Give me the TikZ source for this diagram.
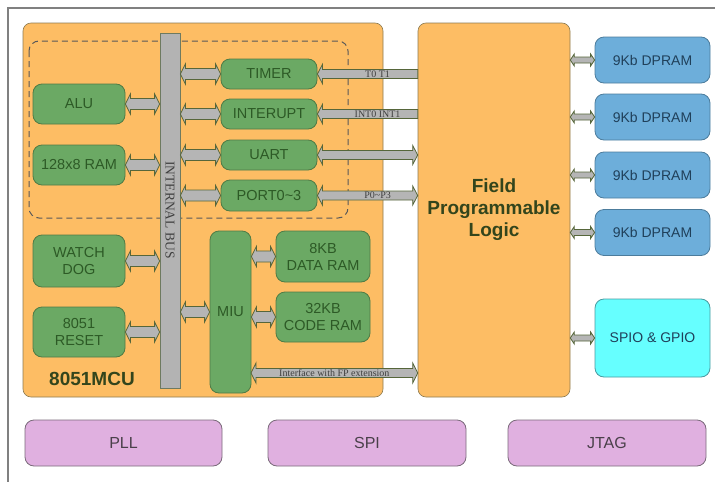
\documentclass[tikz,border=0pt]{standalone}
\usepackage{fontspec}
\setmainfont{Liberation Serif}
\setsansfont{Liberation Sans}
\usetikzlibrary{calc}

\definecolor{mcuorange}{HTML}{FDBD64}
\definecolor{edgebrown}{HTML}{8C7B52}
\definecolor{unitgreen}{HTML}{6BA964}
\definecolor{unitedge}{HTML}{4F7B45}
\definecolor{unittext}{HTML}{2D5A26}
\definecolor{arrowgray}{HTML}{B5B5B5}
\definecolor{arrowedge}{HTML}{56663A}
\definecolor{busgray}{HTML}{B3B3B3}
\definecolor{busedge}{HTML}{6E7A60}
\definecolor{dpblue}{HTML}{6DAEDA}
\definecolor{dpedge}{HTML}{4C7C9C}
\definecolor{dptext}{HTML}{20405A}
\definecolor{spiocyan}{HTML}{66FFFF}
\definecolor{spioedge}{HTML}{4A9AA0}
\definecolor{plumfill}{HTML}{E0B0E0}
\definecolor{plumedge}{HTML}{7A6A7A}
\definecolor{plumtext}{HTML}{4A404A}
\definecolor{logictext}{HTML}{33451C}
\definecolor{framegray}{HTML}{808080}

% wide arrow, heads at both ends: [head length]{from}{to}{half body}{half head}
\newcommand{\twoway}[5][5pt]{%
  \draw[busarrow] let \p1=#2, \p2=#3 in
    (\x1,\y1) -- (\x1+#1,\y1+#5) -- (\x1+#1,\y1+#4) -- (\x2-#1,\y1+#4)
    -- (\x2-#1,\y1+#5) -- (\x2,\y1) -- (\x2-#1,\y1-#5) -- (\x2-#1,\y1-#4)
    -- (\x1+#1,\y1-#4) -- (\x1+#1,\y1-#5) -- cycle;}
% wide arrow, head at the left end only
\newcommand{\oneway}[5][5pt]{%
  \draw[busarrow] let \p1=#2, \p2=#3 in
    (\x1,\y1) -- (\x1+#1,\y1+#5) -- (\x1+#1,\y1+#4) -- (\x2,\y1+#4)
    -- (\x2,\y1-#4) -- (\x1+#1,\y1-#4) -- (\x1+#1,\y1-#5) -- cycle;}

\begin{document}
\begin{tikzpicture}[
    x={(1pt,0pt)},
    y={(0pt,-1pt)},
    wh/.style 2 args={minimum width=#1pt, minimum height=#2pt},
    block/.style={draw=edgebrown, fill=mcuorange, rounded corners=8pt, line width=0.6pt, inner sep=0pt},
    unit/.style={draw=unitedge, fill=unitgreen, rounded corners=9pt, line width=0.8pt,
        text=unittext, font=\sffamily\fontsize{14.5}{17}\selectfont, align=center, inner sep=0pt},
    dpram/.style={draw=dpedge, fill=dpblue, rounded corners=9pt, line width=0.8pt,
        text=dptext, font=\sffamily\fontsize{14}{17}\selectfont, inner sep=0pt},
    periph/.style={draw=plumedge, fill=plumfill, rounded corners=9pt, line width=0.8pt,
        text=plumtext, font=\sffamily\fontsize{16}{18}\selectfont, inner sep=0pt},
    bus/.style={draw=busedge, fill=busgray, line width=0.8pt, inner sep=0pt},
    busarrow/.style={draw=arrowedge, fill=arrowgray, line width=0.8pt},
    sig/.style={font=\fontsize{10}{10}\selectfont, text=black!75, inner sep=0pt},
    frame/.style={draw=framegray, line width=2pt}
]
    \useasboundingbox (0,0) rectangle (715,482);
    \draw[frame] (8,482) -- (8,8) -- (715,8);

    % 8051 core
    \node[block, wh={360}{374}] (mcu) at (203,210) {};
    \draw[draw=black!65, dashed, dash pattern=on 6pt off 4pt, line width=1pt, rounded corners=10pt]
        (29,41) rectangle (348,218);
    \node[bus, wh={20}{355}] (bus) at (170,210.5) {};
    \node[rotate=-90, font=\fontsize{13.5}{14}\selectfont, text=black!75] (buslbl) at (170,210) {INTERNAL BUS};

    \node[unit, wh={92}{40}] (alu) at (79,104) {ALU};
    \node[unit, wh={92}{40}] (ram) at (79,165) {128x8 RAM};
    \node[unit, wh={92}{52}] (wdog) at (79,261) {WATCH\\DOG};
    \node[unit, wh={92}{50}] (rst) at (79,332) {8051\\RESET};
    \node[unit, wh={96}{30}] (timer) at (269,74) {TIMER};
    \node[unit, wh={96}{30}] (intr) at (269,114) {INTERUPT};
    \node[unit, wh={96}{30}] (uart) at (269,155) {UART};
    \node[unit, wh={96}{31}] (port) at (269,195.5) {PORT0\textasciitilde3};
    \node[unit, wh={41}{162}] (miu) at (230.5,312) {MIU};
    \node[unit, wh={94}{51}] (dram) at (323,256.5) {8KB\\DATA RAM};
    \node[unit, wh={94}{50}] (cram) at (323,317) {32KB\\CODE RAM};
    \node[font=\sffamily\bfseries\fontsize{19}{20}\selectfont, text=logictext] (mculbl) at (92,379) {8051MCU};

    % fabric and memories
    \node[block, wh={152}{374}, align=center, text=logictext,
        font=\sffamily\bfseries\fontsize{19}{22}\selectfont] (fpl) at (494,210) {Field\\Programmable\\Logic};
    \foreach \i/\y in {1/60,2/117,3/175,4/232.5}
        \node[dpram, wh={115}{46}] (dp\i) at (652.5,\y) {9Kb DPRAM};
    \node[dpram, wh={115}{78}, fill=spiocyan, draw=spioedge] (spio) at (652.5,338) {SPIO \& GPIO};

    \node[periph, wh={197}{46}] (pll) at (123.5,443) {PLL};
    \node[periph, wh={198}{46}] (spi) at (367,443) {SPI};
    \node[periph, wh={198}{46}] (jtag) at (607,443) {JTAG};

    % bus connections
    \foreach \u in {alu,ram,wdog,rst}{
        \twoway{(\u.east)}{(\u.east -| bus.west)}{5.5pt}{10pt}}
    \foreach \u in {timer,intr,uart,port,miu}{
        \twoway{(bus.east |- \u.west)}{(\u.west)}{5.5pt}{10pt}}
    \twoway{(miu.east |- dram.west)}{(dram.west)}{5.5pt}{10pt}
    \twoway{(miu.east |- cram.west)}{(cram.west)}{5.5pt}{10pt}

    % links to the fabric
    \oneway{(timer.east)}{(timer.east -| fpl.west)}{4.5pt}{9.5pt}
    \oneway{(intr.east)}{(intr.east -| fpl.west)}{4.5pt}{9.5pt}
    \twoway{(uart.east)}{(uart.east -| fpl.west)}{4.5pt}{9.5pt}
    \twoway{(port.east)}{(port.east -| fpl.west)}{4.5pt}{9.5pt}
    \path (timer.east) -- (timer.east -| fpl.west) node[sig, pos=0.6] (t01) {T0 T1};
    \path (intr.east) -- (intr.east -| fpl.west) node[sig, pos=0.6] (int01) {INT0 INT1};
    \path (port.east) -- (port.east -| fpl.west) node[sig, pos=0.6] (p03) {P0\textasciitilde P3};
    \coordinate (ifc) at (251,373);
    \twoway{(ifc)}{(ifc -| fpl.west)}{4.5pt}{10pt}
    \path (ifc) -- (ifc -| fpl.west) node[sig, midway, font=\fontsize{10}{10}\selectfont] (ifclbl) {Interface with FP extension};

    \foreach \u in {dp1,dp2,dp3,dp4,spio}{
        \twoway[4pt]{(fpl.east |- \u.west)}{(\u.west)}{3pt}{6pt}}
\end{tikzpicture}
\end{document}
